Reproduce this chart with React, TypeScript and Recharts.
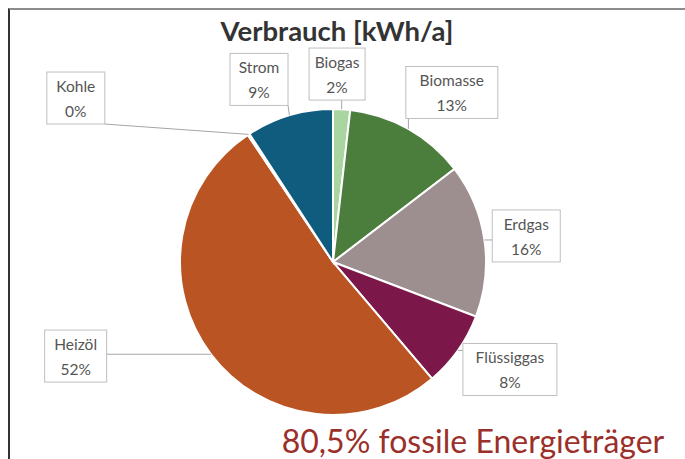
import { PieChart, Pie, Cell } from 'recharts';

// Energieträger in Excel-Reihenfolge (alphabetisch, im Uhrzeigersinn ab 12 Uhr)
const categories = ['Biogas', 'Biomasse', 'Erdgas', 'Flüssiggas', 'Heizöl', 'Kohle', 'Strom'];
const shares = [1.8, 12.8, 16.2, 8.0, 51.8, 0.2, 9.2];

const colors: Record<string, string> = {
  Biogas: '#a8d5a0',
  Biomasse: '#4b7e3c',
  Erdgas: '#9d8e90',
  'Flüssiggas': '#7c1749',
  'Heizöl': '#ba5422',
  Kohle: '#3b3b3b',
  Strom: '#0f5c7e',
};

// label placement: distance of box centre from pie centre, angle shift (deg, clockwise)
const labelLayout: Record<string, { dist: number; shift: number; w: number }> = {
  Biogas: { dist: 188, shift: -2, w: 56 },
  Biomasse: { dist: 207, shift: 5.5, w: 92 },
  Erdgas: { dist: 195, shift: 0.6, w: 68 },
  'Flüssiggas': { dist: 207, shift: -4, w: 94 },
  'Heizöl': { dist: 274, shift: 17, w: 62 },
  Kohle: { dist: 305, shift: -24, w: 58 },
  Strom: { dist: 197, shift: -5.5, w: 58 },
};

const data = categories.map((name, i) => ({ name, value: shares[i] }));

const RAD = Math.PI / 180;

function renderLabel(props: any) {
  const { cx, cy, midAngle, outerRadius, percent, name } = props;
  const lay = labelLayout[name];
  // recharts angle: counter-clockwise from 3 o'clock
  const a = midAngle - lay.shift;
  const bx = cx + lay.dist * Math.cos(-a * RAD);
  const by = cy + lay.dist * Math.sin(-a * RAD);
  const px = cx + outerRadius * Math.cos(-midAngle * RAD);
  const py = cy + outerRadius * Math.sin(-midAngle * RAD);
  const w = lay.w;
  const h = 52;
  const x0 = bx - w / 2;
  const y0 = by - h / 2;
  const ex = Math.min(Math.max(px, x0), x0 + w);
  const ey = Math.min(Math.max(py, y0), y0 + h);
  return (
    <g>
      <line x1={ex} y1={ey} x2={px} y2={py} stroke="#a6a6a6" strokeWidth={1} />
      <rect x={x0} y={y0} width={w} height={h} fill="#fff" stroke="#bfbfbf" strokeWidth={1} />
      <text x={bx} y={by - 6} textAnchor="middle" fontSize={15.5} fill="#555" fontFamily="Lato, sans-serif">
        {name}
      </text>
      <text x={bx} y={by + 19} textAnchor="middle" fontSize={15.5} fill="#555" fontFamily="Lato, sans-serif">
        {Math.round(percent * 100)}%
      </text>
    </g>
  );
}

export default function App() {
  return (
    <>
      <style>{'html,body{overflow:hidden;margin:0;}'}</style>
      <div
        style={{
          position: 'fixed',
          left: 0,
          top: 0,
          width: 685,
          height: 459,
          overflow: 'hidden',
          background: '#fff',
        }}
      >
        <div
          style={{
            position: 'absolute',
            left: 8,
            top: 8,
            width: 700,
            height: 470,
            borderTop: '2px solid #8c8c8c',
            borderLeft: '2px solid #333',
            boxSizing: 'border-box',
            fontFamily: 'Lato, sans-serif',
          }}
        >
          <PieChart width={690} height={455} margin={{ top: 0, right: 0, bottom: 0, left: 0 }}>
            <text x={327} y={31} textAnchor="middle" fontSize={27.5} fontWeight="bold" fill="#333" fontFamily="Lato, sans-serif">
              Verbrauch [kWh/a]
            </text>
            <Pie
              data={data}
              dataKey="value"
              nameKey="name"
              cx={323}
              cy={252}
              outerRadius={153}
              startAngle={90}
              endAngle={-270}
              stroke="#fff"
              strokeWidth={2}
              label={renderLabel}
              labelLine={false}
              isAnimationActive={false}
            >
              {data.map((d) => (
                <Cell key={d.name} fill={colors[d.name]} />
              ))}
            </Pie>
            <text x={463} y={443} textAnchor="middle" fontSize={32} fill="#9b2f2a" fontFamily="Lato, sans-serif">
              80,5% fossile Energieträger
            </text>
          </PieChart>
        </div>
      </div>
    </>
  );
}
